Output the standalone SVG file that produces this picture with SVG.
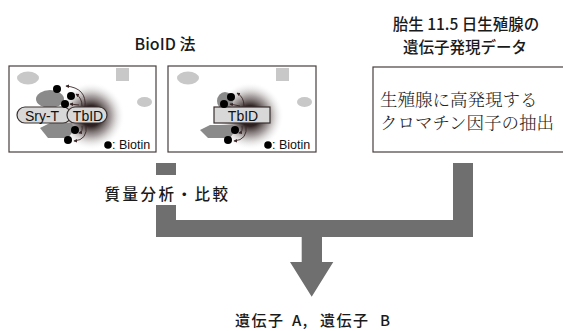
<svg xmlns="http://www.w3.org/2000/svg" width="563" height="331" viewBox="0 0 563 331">
  <defs>
    <radialGradient id="glow" cx="0.5" cy="0.5" r="0.5">
      <stop offset="0" stop-color="#1e1414"/>
      <stop offset="0.3" stop-color="#2e2222"/>
      <stop offset="0.6" stop-color="#8a8080" stop-opacity="0.7"/>
      <stop offset="1" stop-color="#ffffff" stop-opacity="0"/>
    </radialGradient>
    <marker id="tip" viewBox="0 0 6 6" refX="5" refY="3" markerWidth="4" markerHeight="4" orient="auto">
      <path d="M0,0 L6,3 L0,6 z" fill="#3a2626"/>
    </marker>
    <style>
      .frame { fill: #ffffff; stroke: #4a3e3e; stroke-width: 1.2; }
      .pale { fill: #c8c8c8; }
      .blob { fill: #8a8a8a; }
      .dot { fill: #000000; }
      .tag { fill: #d8d8d8; stroke: #3a3030; stroke-width: 1.2; }
      .curl { fill: none; stroke: #3a2626; stroke-width: 0.9; marker-end: url(#tip); }
      .lbl { font-family: "Liberation Sans", Arial, sans-serif; fill: #111; }
      .jp { font-family: "Noto Sans CJK JP", sans-serif; fill: #1a1a1a; }
      .mincho { font-family: "Noto Serif CJK JP", "Noto Sans CJK JP", serif; font-weight: 300; fill: #222; }
      .flow { fill: #6f6f6f; }
    </style>
  </defs>

  <rect width="563" height="331" fill="#ffffff"/>

  <!-- headings -->
  <text class="jp" x="165" y="50" font-size="16" font-weight="500" text-anchor="middle">BioID 法</text>
  <text class="jp" x="466" y="30" font-size="15.5" font-weight="500" text-anchor="middle">胎生 11.5 日生殖腺の</text>
  <text class="jp" x="465" y="52.5" font-size="15.5" font-weight="500" text-anchor="middle">遺伝子発現データ</text>

  <!-- BioID with Sry-T fusion -->
  <g id="bioid-sry">
    <rect class="frame" x="9" y="66" width="147" height="86"/>
    <ellipse class="pale" cx="28" cy="78" rx="11" ry="6.5"/>
    <rect class="pale" x="116" y="68" width="13" height="13"/>
    <ellipse class="pale" cx="144.5" cy="102" rx="7.5" ry="5"/>
    <circle cx="91" cy="116" r="34" fill="url(#glow)"/>
    <ellipse class="blob" cx="50" cy="99" rx="14" ry="9"/>
    <polygon class="blob" points="40,128 50,123 72,123 74,130 68,138 48,138"/>
    <rect class="tag" x="17" y="107" width="54" height="16" rx="8"/>
    <rect class="tag" x="67" y="107" width="40" height="16" rx="8"/>
    <text class="lbl" x="42" y="120.5" font-size="14" text-anchor="middle">Sry-T</text>
    <text class="lbl" x="88" y="120.5" font-size="14" text-anchor="middle">TbID</text>
    <circle class="dot" cx="57" cy="89" r="4"/>
    <circle class="dot" cx="71" cy="96" r="4"/>
    <circle class="dot" cx="65" cy="104" r="4"/>
    <circle class="dot" cx="75" cy="130" r="4"/>
    <circle class="dot" cx="68" cy="140" r="4"/>
    <path class="curl" d="M85,107 Q87,88 66,86"/>
    <path class="curl" d="M82,106 Q82,98 76,94"/>
    <path class="curl" d="M79,105 L70,104"/>
    <path class="curl" d="M86,125 Q88,140 74,141"/>
    <path class="curl" d="M82,126 Q83,132 79,133"/>
    <circle class="dot" cx="108" cy="145" r="3.8"/>
    <text class="lbl" x="112" y="149" font-size="12.5">: Biotin</text>
  </g>

  <!-- BioID with TbID alone -->
  <g id="bioid-tbid">
    <rect class="frame" x="168" y="66" width="148" height="86"/>
    <ellipse class="pale" cx="188" cy="78" rx="11" ry="6.5"/>
    <rect class="pale" x="276" y="68" width="13" height="13"/>
    <ellipse class="pale" cx="304.5" cy="102" rx="7.5" ry="5"/>
    <circle cx="250" cy="116" r="34" fill="url(#glow)"/>
    <ellipse class="blob" cx="225" cy="101" rx="8" ry="9"/>
    <polygon class="blob" points="200,130 210,125 233,125 235,131 230,138 208,138"/>
    <rect class="tag" x="214" y="107" width="56" height="16"/>
    <text class="lbl" x="243" y="120.5" font-size="14" text-anchor="middle">TbID</text>
    <circle class="dot" cx="231" cy="97" r="4"/>
    <circle class="dot" cx="224" cy="104" r="4"/>
    <circle class="dot" cx="235" cy="130" r="4"/>
    <circle class="dot" cx="228" cy="140" r="4"/>
    <path class="curl" d="M244,106 Q244,97 237,93"/>
    <path class="curl" d="M240,106 L230,104"/>
    <path class="curl" d="M246,125 Q248,140 234,141"/>
    <path class="curl" d="M242,126 Q243,132 239,133"/>
    <circle class="dot" cx="268" cy="145" r="3.8"/>
    <text class="lbl" x="272" y="149" font-size="12.5">: Biotin</text>
  </g>

  <!-- expression data box -->
  <g id="expression">
    <rect class="frame" x="373" y="67" width="200" height="85"/>
    <text class="mincho" x="380" y="106" font-size="17.5">生殖腺に高発現する</text>
    <text class="mincho" x="380" y="129" font-size="17.5">クロマチン因子の抽出</text>
  </g>

  <!-- merging flow -->
  <g id="connectors">
    <rect class="flow" x="156" y="163" width="20" height="12"/>
    <path class="flow" d="M156,205 H176 V220 H453 V163 H473 V237 H322 V262 H333.3 L311.7,296.7 L290,262 H301.7 V237 H156 Z"/>
  </g>

  <g id="labels">
    <text class="jp" x="167.5" y="200" font-size="15.5" font-weight="500" letter-spacing="2.5" text-anchor="middle">質量分析・比較</text>
    <text class="jp" y="326" font-size="15" font-weight="500" letter-spacing="1.5"><tspan x="235">遺伝子</tspan><tspan x="292">A,</tspan><tspan x="320">遺伝子</tspan><tspan x="380">B</tspan></text>
  </g>
</svg>
